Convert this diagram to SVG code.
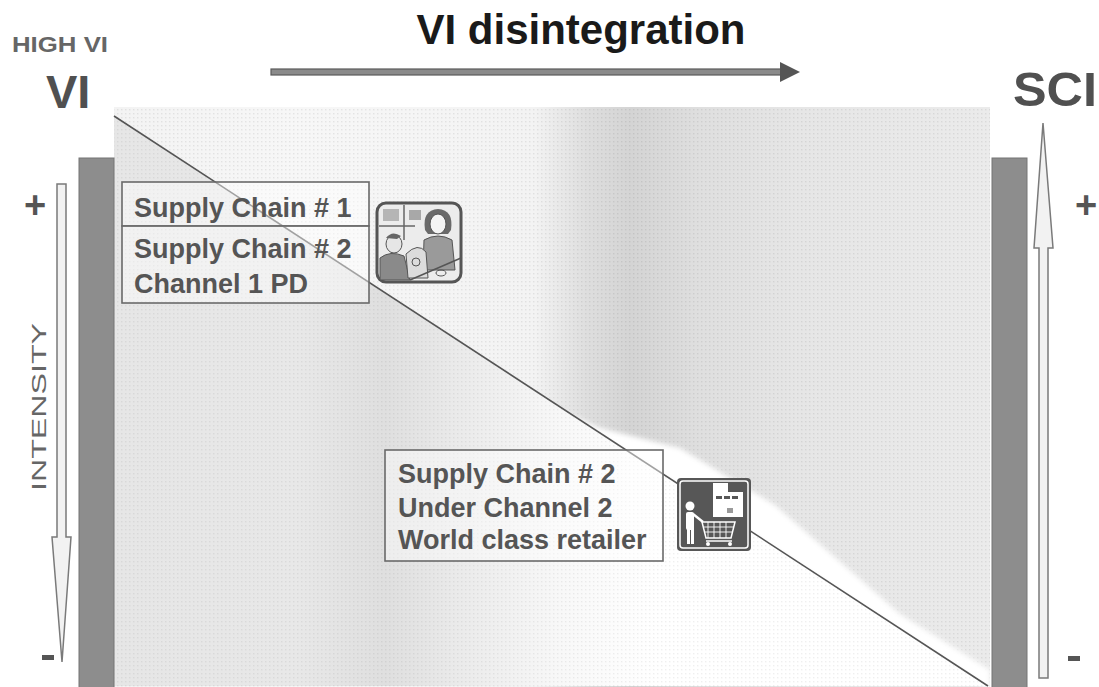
<svg xmlns="http://www.w3.org/2000/svg" width="1099" height="687" viewBox="0 0 1099 687">
  <style>
    .lbl { font-family: "Liberation Sans", Arial, sans-serif; font-weight: bold; fill: #555; }
    .box { fill: #ffffff; fill-opacity: 0.45; stroke: #6a6a6a; stroke-width: 1.6; }
    .bar { fill: #8d8d8d; stroke: #747474; stroke-width: 1; }
    .vArrow { fill: #f2f2f2; stroke: #7a7a7a; stroke-width: 1.5; stroke-linejoin: miter; }
    .sign { font-family: "Liberation Sans", Arial, sans-serif; font-weight: bold; fill: #555; }
  </style>
  <defs>
    <linearGradient id="panelGrad" gradientUnits="userSpaceOnUse" x1="114" y1="0" x2="990" y2="0">
      <stop offset="0" stop-color="#f3f3f3"/>
      <stop offset="0.21" stop-color="#f7f7f7"/>
      <stop offset="0.48" stop-color="#f3f3f3"/>
      <stop offset="0.54" stop-color="#dedede"/>
      <stop offset="0.59" stop-color="#d4d4d4"/>
      <stop offset="0.67" stop-color="#dfdfdf"/>
      <stop offset="0.78" stop-color="#e6e6e6"/>
      <stop offset="1" stop-color="#ebebeb"/>
    </linearGradient>
    <linearGradient id="triGrad" gradientUnits="userSpaceOnUse" x1="114" y1="0" x2="990" y2="0">
      <stop offset="0" stop-color="#e6e6e6"/>
      <stop offset="0.21" stop-color="#e8e8e8"/>
      <stop offset="0.31" stop-color="#dfdfdf"/>
      <stop offset="0.39" stop-color="#eaeaea"/>
      <stop offset="0.51" stop-color="#f8f8f8"/>
      <stop offset="0.62" stop-color="#ffffff"/>
      <stop offset="1" stop-color="#ffffff"/>
    </linearGradient>
    <pattern id="dots" width="4" height="4" patternUnits="userSpaceOnUse">
      <rect x="1" y="1" width="1.4" height="1.4" fill="#000" fill-opacity="0.08"/>
    </pattern>
    <filter id="soft" x="-10%" y="-10%" width="120%" height="120%">
      <feGaussianBlur stdDeviation="2.5"/>
    </filter>
  </defs>

  <rect width="1099" height="687" fill="#ffffff"/>

  <!-- shaded backdrop and the VI triangle -->
  <g id="backdrop">
    <rect x="114" y="107" width="876" height="580" fill="url(#panelGrad)"/>
    <rect x="114" y="107" width="876" height="580" fill="url(#dots)"/>
    <!-- pale glow along the upper side of the diagonal -->
    <polygon points="600,428 680,448 775,505 900,614 990,670 990,690 560,410" fill="#ffffff" filter="url(#soft)"/>
    <polygon points="114,116 988,686 114,686" fill="url(#triGrad)"/>
    <polygon points="114,116 988,686 114,686" fill="url(#dots)" opacity="0.8"/>
    <line x1="114" y1="116" x2="988" y2="686" stroke="#555" stroke-width="1.6"/>
  </g>

  <!-- side bars -->
  <g id="bar-left"><rect class="bar" x="79" y="158" width="35" height="530"/></g>
  <g id="bar-right"><rect class="bar" x="992" y="158" width="35" height="530"/></g>

  <!-- headings -->
  <g id="title">
    <text class="lbl" x="581" y="44" font-size="42" text-anchor="middle" style="fill:#1a1a1a">VI disintegration</text>
  </g>
  <g id="high-vi">
    <text class="lbl" x="12" y="52" font-size="22" textLength="96" lengthAdjust="spacingAndGlyphs" style="fill:#666">HIGH VI</text>
  </g>
  <g id="vi">
    <text class="lbl" x="46" y="108" font-size="47" style="fill:#505050">VI</text>
  </g>
  <g id="sci">
    <text class="lbl" x="1013" y="106" font-size="48" textLength="84" lengthAdjust="spacingAndGlyphs" style="fill:#505050">SCI</text>
  </g>

  <!-- direction arrow under the title -->
  <g id="connectors">
    <rect x="271" y="69" width="511" height="6" fill="#8a8a8a" stroke="#5a5a5a" stroke-width="1.2"/>
    <polygon points="780,62 800,72 780,82" fill="#555"/>
    <!-- intensity arrow, pointing down -->
    <polygon class="vArrow" points="57,184 66,184 66,537 71,537 62,662 52,537 57,537"/>
    <!-- SCI arrow, pointing up -->
    <polygon class="vArrow" points="1039,678 1048,678 1048,248 1053,248 1043,123 1034,248 1039,248"/>
  </g>

  <!-- scale signs -->
  <g id="signs">
    <text class="sign" x="35" y="218" font-size="38" text-anchor="middle">+</text>
    <rect x="42" y="655" width="12" height="5" fill="#555"/>
    <text class="sign" x="1086" y="218" font-size="38" text-anchor="middle">+</text>
    <rect x="1068" y="656" width="12" height="5" fill="#555"/>
  </g>

  <g id="intensity">
    <text transform="translate(46,491) rotate(-90)" font-family="Liberation Sans, Arial, sans-serif" font-size="20" fill="#666" textLength="168" lengthAdjust="spacingAndGlyphs">INTENSITY</text>
  </g>

  <!-- supply chain boxes -->
  <g id="node-sc1">
    <rect class="box" x="122" y="182" width="247" height="44"/>
    <text class="lbl" x="134" y="217" font-size="27">Supply Chain # 1</text>
  </g>
  <g id="node-sc2-ch1">
    <rect class="box" x="122" y="226" width="247" height="77"/>
    <text class="lbl" x="134" y="258" font-size="27">Supply Chain # 2</text>
    <text class="lbl" x="134" y="293" font-size="27">Channel 1 PD</text>
  </g>
  <g id="node-sc2-ch2">
    <rect class="box" x="385" y="450" width="278" height="111"/>
    <text class="lbl" x="398" y="483" font-size="27">Supply Chain # 2</text>
    <text class="lbl" x="398" y="517" font-size="27">Under Channel 2</text>
    <text class="lbl" x="398" y="549" font-size="27">World class retailer</text>
  </g>

  <!-- office clip-art -->
  <g id="icon-office">
    <rect x="377" y="203" width="84" height="79" rx="9" fill="#ececec" stroke="#555" stroke-width="3"/>
    <line x1="404" y1="205" x2="404" y2="240" stroke="#666" stroke-width="1.5"/>
    <line x1="379" y1="226" x2="415" y2="226" stroke="#666" stroke-width="1.5"/>
    <rect x="383" y="209" width="16" height="12" fill="#b5b5b5"/>
    <rect x="409" y="210" width="12" height="10" fill="#a8a8a8"/>
    <!-- woman -->
    <path d="M425,230 q-3,-20 13,-21 q16,1 13,21 l-3,4 l-20,0 z" fill="#6a6a6a"/>
    <ellipse cx="438" cy="224" rx="8" ry="10" fill="#f4f4f4" stroke="#555" stroke-width="1"/>
    <path d="M424,240 q14,-8 28,0 l3,30 l-32,0 z" fill="#9a9a9a" stroke="#555" stroke-width="1"/>
    <!-- man -->
    <ellipse cx="394" cy="244" rx="8" ry="9" fill="#e6e6e6" stroke="#555" stroke-width="1"/>
    <path d="M386,238 q6,-8 15,-2 l-4,3 z" fill="#666"/>
    <path d="M380,258 q10,-8 24,-2 l6,24 l-30,0 z" fill="#8a8a8a" stroke="#555" stroke-width="1"/>
    <!-- desk and counter -->
    <path d="M406,254 q12,-12 20,-2 l2,26 l-20,0 z" fill="#dcdcdc" stroke="#555" stroke-width="1"/>
    <circle cx="416" cy="262" r="4" fill="none" stroke="#555" stroke-width="1"/>
    <path d="M410,280 L461,258" stroke="#555" stroke-width="1.5"/>
    <ellipse cx="441" cy="273" rx="5" ry="3" fill="none" stroke="#555" stroke-width="1"/>
  </g>

  <!-- shopping clip-art -->
  <g id="icon-shop">
    <rect x="677" y="478" width="74" height="73" rx="4" fill="#575757"/>
    <rect x="680" y="481" width="68" height="67" rx="3" fill="none" stroke="#ffffff" stroke-width="1.5"/>
    <rect x="713" y="483" width="15" height="10" fill="#ffffff"/>
    <rect x="713" y="492" width="30" height="25" fill="#ffffff"/>
    <rect x="716" y="496" width="6" height="3" fill="#575757"/>
    <rect x="724" y="496" width="6" height="3" fill="#575757"/>
    <rect x="732" y="496" width="6" height="3" fill="#575757"/>
    <rect x="727" y="508" width="6" height="5" fill="#9a9a9a"/>
    <circle cx="690" cy="506" r="4.5" fill="#ffffff"/>
    <rect x="686" y="512" width="8" height="18" rx="2" fill="#ffffff"/>
    <rect x="687" y="528" width="3" height="16" fill="#ffffff"/>
    <rect x="691" y="528" width="3" height="16" fill="#ffffff"/>
    <line x1="693" y1="514" x2="703" y2="522" stroke="#ffffff" stroke-width="2.5"/>
    <path d="M702,522 L735,522 L731,538 L706,538 Z" fill="none" stroke="#ffffff" stroke-width="1.5"/>
    <path d="M708,522 v16 M714,522 v16 M720,522 v16 M726,522 v16 M704,527 h30 M705,532 h28" stroke="#ffffff" stroke-width="0.9"/>
    <line x1="706" y1="541" x2="732" y2="541" stroke="#ffffff" stroke-width="1.5"/>
    <circle cx="708" cy="544" r="2" fill="#ffffff"/>
    <circle cx="730" cy="544" r="2" fill="#ffffff"/>
  </g>
</svg>
